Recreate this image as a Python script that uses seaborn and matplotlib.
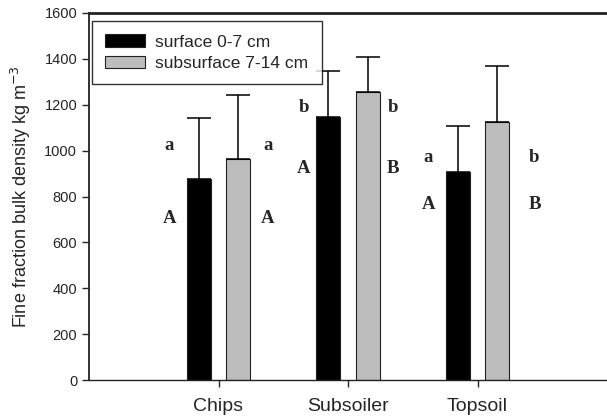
import matplotlib
matplotlib.use("Agg")
import matplotlib.pyplot as plt
import seaborn as sns
import pandas as pd

# data
sites = ["Chips", "Subsoiler", "Topsoil"]
depths = ["surface 0-7 cm", "subsurface 7-14 cm"]
surface = [875, 1148, 908]
subsurface = [963, 1257, 1126]
surface_err = [266, 200, 199]
subsurface_err = [279, 152, 244]

# significance letters (lower: within site, upper: across sites)
lower_surface = ["a", "b", "a"]
lower_subsurface = ["a", "b", "b"]
upper_surface = ["A", "A", "A"]
upper_subsurface = ["A", "B", "B"]
lower_y = [1024, 1190, 972]
upper_y = [706, 924, 763]
left_dx = [-0.38, -0.34, -0.38]
right_dx = [0.38, 0.35, 0.44]

df = pd.DataFrame({
    "site": sites * 2,
    "depth": [depths[0]] * 3 + [depths[1]] * 3,
    "density": surface + subsurface,
})

sns.set_style("ticks")
plt.rcParams["font.family"] = ["Liberation Sans", "DejaVu Sans"]

fig = plt.figure(figsize=(6.07, 4.20), dpi=100)
ax = fig.add_axes([89 / 607, 1 - 380 / 420, 1 - 89 / 607, (380 - 13) / 420])

sns.barplot(data=df, x="site", y="density", hue="depth", order=sites,
            hue_order=depths, palette=["black", "#bdbdbd"], width=0.616,
            gap=0.4, edgecolor="#222222", linewidth=0.8, errorbar=None,
            ax=ax)

# upward-only error bars, placed on the bars seaborn drew
bars = [p for p in ax.patches if p.get_height() > 0][:6]
errs = surface_err + subsurface_err
for b, e in zip(bars, errs):
    x = b.get_x() + b.get_width() / 2
    ax.errorbar([x], [b.get_height()], yerr=[[0], [e]], fmt="none",
                ecolor="black", elinewidth=1.1, capsize=8.5, capthick=1.1,
                zorder=3)

letter_font = dict(family="Liberation Serif", fontweight="bold", fontsize=13.5,
                   ha="center", va="center")
for i in range(3):
    ax.text(i + left_dx[i], lower_y[i], lower_surface[i], **letter_font)
    ax.text(i + left_dx[i], upper_y[i], upper_surface[i], **letter_font)
    ax.text(i + right_dx[i], lower_y[i], lower_subsurface[i], **letter_font)
    ax.text(i + right_dx[i], upper_y[i], upper_subsurface[i], **letter_font)

ax.set_xlim(-1, 3)
ax.set_ylim(0, 1600)
ax.set_yticks(range(0, 1601, 200))
ax.set_xlabel("")
ax.set_ylabel("Fine fraction bulk density kg m$^{-3}$", fontsize=13,
              labelpad=8)
ax.tick_params(axis="y", labelsize=10.5, length=5, width=1, direction="out")
ax.tick_params(axis="x", labelsize=14, length=5, width=1, direction="out",
               pad=8)

ax.spines["right"].set_visible(False)
ax.spines["top"].set_linewidth(2)
ax.spines["left"].set_linewidth(1.3)
ax.spines["bottom"].set_linewidth(1.0)
for s in ax.spines.values():
    s.set_color("#222222")

leg = ax.legend(loc="upper left", bbox_to_anchor=(0.006, 0.978), fontsize=12.5,
                frameon=True, fancybox=False, edgecolor="black",
                handlelength=2.3, handleheight=0.75, borderpad=0.75,
                labelspacing=0.35, handletextpad=0.6, borderaxespad=0)
leg.get_frame().set_linewidth(1.0)
leg.set_title(None)

fig.savefig("out.png", dpi=100)
